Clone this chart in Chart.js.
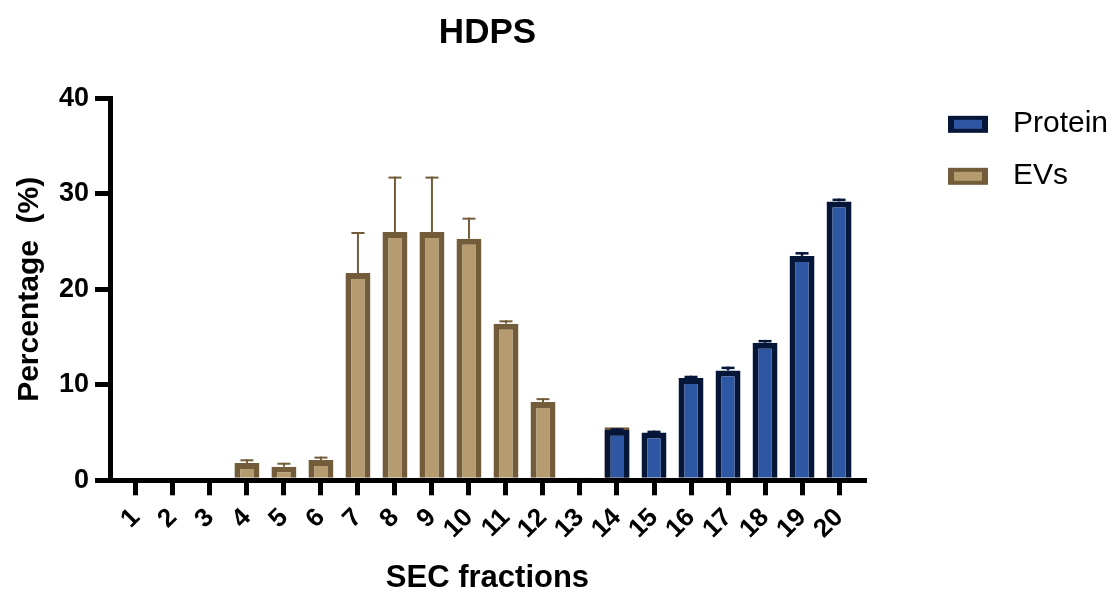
<!DOCTYPE html>
<html>
<head>
<meta charset="utf-8">
<title>HDPS</title>
<script src="https://cdn.jsdelivr.net/npm/chart.js@4/dist/chart.umd.min.js"></script>
<style>
  html, body { margin: 0; padding: 0; background: #ffffff; }
  #wrap { width: 1118px; height: 597px; }
</style>
</head>
<body>
<div id="wrap"><canvas id="chart" width="1118" height="597"></canvas></div>
<script>
// SEC fraction numbers and their axis labels
const fractions = [1, 2, 3, 4, 5, 6, 7, 8, 9, 10, 11, 12, 13, 14, 15, 16, 17, 18, 19, 20];
const fractionLabels = ['1', '2', '3', '4', '5', '6', '7', '8', '9', '10',
                        '11', '12', '13', '14', '15', '16', '17', '18', '19', '20'];
const yTicks = [0, 10, 20, 30, 40];

// Percentage per fraction (mean) and upward error (SD)
const proteinValues = [0, 0, 0, 0, 0, 0, 0, 0, 0, 0, 0, 0, 0, 5.3, 5.0, 10.7, 11.5, 14.4, 23.5, 29.2];
const proteinErr    = [0, 0, 0, 0, 0, 0, 0, 0, 0, 0, 0, 0, 0, 0.15, 0.2, 0.25, 0.4, 0.3, 0.4, 0.3];
const evValues      = [0, 0, 0, 1.8, 1.42, 2.13, 21.7, 26.0, 26.0, 25.3, 16.4, 8.2, 0.3, 5.55, 0, 0, 0, 0, 0, 0];
const evErr         = [0, 0, 0, 0.4, 0.42, 0.35, 4.3, 5.8, 5.8, 2.2, 0.35, 0.4, 0, 0, 0, 0, 0, 0, 0, 0];

const seriesNames = ['Protein', 'EVs'];

const FONT = '"Liberation Sans", Arial, Helvetica, sans-serif';
const PROTEIN_FILL = '#2D56A3', PROTEIN_EDGE = '#061638';
const EV_FILL = '#B69B6F', EV_EDGE = '#735C39';

// ---- legend geometry: swatch drawn as a point-style canvas ----
const LEGEND_FONT = 30;
const LEGEND_PAD = 10;
const LEGEND_STEP = 52;               // distance between legend rows
const PLOT_RIGHT = 867;
const SWATCH_LEFT = 950, SWATCH_W = 40, SWATCH_H = 17, SWATCH_DY = 1;
const TEXT_LEFT = 1015;
const itemLeft = PLOT_RIGHT + LEGEND_PAD;
const pointW = TEXT_LEFT - LEGEND_FONT / 2 - itemLeft;
const swatchCenter = itemLeft + pointW / 2;
const swCanvasW = Math.ceil(2 * (SWATCH_LEFT + SWATCH_W - swatchCenter)) + 2;
const swCanvasH = 2 * (SWATCH_H / 2 + Math.abs(SWATCH_DY)) + 2;

function swatch(fill, edge) {
  const c = document.createElement('canvas');
  c.width = swCanvasW; c.height = swCanvasH;
  const g = c.getContext('2d');
  const x0 = SWATCH_LEFT - (swatchCenter - swCanvasW / 2);
  const y0 = swCanvasH / 2 - SWATCH_H / 2 + SWATCH_DY;
  g.fillStyle = edge;
  g.fillRect(x0, y0, SWATCH_W, SWATCH_H);
  g.fillStyle = fill;
  g.fillRect(x0 + 6, y0 + 4, SWATCH_W - 12, SWATCH_H - 8);
  return c;
}

const measure = document.createElement('canvas').getContext('2d');
measure.font = LEGEND_FONT + 'px ' + FONT;
const labelW = Math.max(...seriesNames.map(t => measure.measureText(t).width));
const legendWidth = LEGEND_PAD + pointW + LEGEND_FONT / 2 + labelW + 10;
const padRight = Math.max(0, 1118 - PLOT_RIGHT - legendWidth);

// upward error bars with caps, drawn right after their own dataset
const errorBars = {
  id: 'errorBars',
  afterDatasetDraw(chart, args) {
    const ds = chart.data.datasets[args.index];
    const errs = ds.errors;
    if (!errs) return;
    const y = chart.scales.y;
    const ctx = chart.ctx;
    ctx.save();
    ctx.strokeStyle = ds.borderColor;
    args.meta.data.forEach((bar, i) => {
      const v = ds.data[i].y;
      const e = errs[i];
      if (!e || !v) return;
      const top = y.getPixelForValue(v + e);
      ctx.lineWidth = ds.errLine;
      ctx.beginPath();
      ctx.moveTo(bar.x, bar.y);
      ctx.lineTo(bar.x, top);
      ctx.stroke();
      ctx.lineWidth = ds.errCap;
      ctx.beginPath();
      ctx.moveTo(bar.x - 6.5, top + ds.errCap / 2);
      ctx.lineTo(bar.x + 6.5, top + ds.errCap / 2);
      ctx.stroke();
    });
    ctx.restore();
  }
};

const toPoints = vals => fractions.map((f, i) => ({ x: f, y: vals[i] }));

new Chart(document.getElementById('chart'), {
  type: 'bar',
  data: {
    datasets: [
      {
        label: seriesNames[0],
        data: toPoints(proteinValues),
        errors: proteinErr,
        backgroundColor: PROTEIN_FILL,
        borderColor: PROTEIN_EDGE,
        borderWidth: 6,
        errLine: 2.5,
        errCap: 2.5,
        legendSwatch: swatch(PROTEIN_FILL, PROTEIN_EDGE)
      },
      {
        label: seriesNames[1],
        data: toPoints(evValues),
        errors: evErr,
        backgroundColor: EV_FILL,
        borderColor: EV_EDGE,
        borderWidth: 6,
        errLine: 2,
        errCap: 2,
        legendSwatch: swatch(EV_FILL, EV_EDGE)
      }
    ]
  },
  options: {
    responsive: false,
    animation: false,
    devicePixelRatio: 1,
    grouped: false,
    barPercentage: 0.675,
    categoryPercentage: 1,
    layout: { padding: { left: 0, right: padRight, top: 0, bottom: 0 } },
    scales: {
      x: {
        type: 'linear',
        min: 0.3,
        max: 20.7,
        offset: false,
        afterBuildTicks: s => { s.ticks = fractions.map(v => ({ value: v })); },
        afterFit: s => { s.height = 116.7; },
        grid: {
          display: true,
          offset: false,
          drawOnChartArea: false,
          drawTicks: true,
          tickLength: 15,
          tickWidth: 5,
          lineWidth: 5,
          color: '#000'
        },
        border: { display: true, color: '#000', width: 5 },
        ticks: {
          autoSkip: false,
          minRotation: 45,
          maxRotation: 45,
          padding: 7,
          color: '#000',
          font: { family: FONT, size: 26, weight: 'bold' },
          callback: v => fractionLabels[fractions.indexOf(v)]
        },
        title: {
          display: true,
          text: 'SEC fractions',
          color: '#000',
          font: { family: FONT, size: 31, weight: 'bold' },
          padding: { top: 4, bottom: 0 }
        }
      },
      y: {
        min: 0,
        max: 40,
        afterBuildTicks: s => { s.ticks = yTicks.map(v => ({ value: v })); },
        afterFit: s => { s.width = 110; },
        grid: {
          display: true,
          drawOnChartArea: false,
          drawTicks: true,
          tickLength: 15,
          tickWidth: 5,
          lineWidth: 5,
          color: '#000'
        },
        border: { display: true, color: '#000', width: 5 },
        ticks: {
          padding: 6,
          color: '#000',
          font: { family: FONT, size: 27, weight: 'bold' }
        },
        title: {
          display: true,
          text: 'Percentage  (%)',
          color: '#000',
          font: { family: FONT, size: 30, weight: 'bold' },
          padding: { top: 12, bottom: 4 }
        }
      }
    },
    plugins: {
      title: {
        display: true,
        text: 'HDPS',
        fullSize: false,
        color: '#000',
        font: { family: FONT, size: 35, weight: 'bold' },
        padding: { top: 12, bottom: 44.3 }
      },
      legend: {
        display: true,
        position: 'right',
        align: 'start',
        fullSize: false,
        labels: {
          usePointStyle: true,
          pointStyleWidth: pointW,
          padding: LEGEND_PAD,
          color: '#000',
          font: { family: FONT, size: LEGEND_FONT, lineHeight: (LEGEND_STEP - LEGEND_PAD) / LEGEND_FONT },
          generateLabels: chart => chart.data.datasets.map((ds, i) => ({
            text: [ds.label],
            pointStyle: ds.legendSwatch,
            fillStyle: ds.backgroundColor,
            strokeStyle: ds.borderColor,
            lineWidth: 0,
            hidden: false,
            datasetIndex: i
          }))
        }
      },
      tooltip: { enabled: false }
    }
  },
  plugins: [errorBars]
});
</script>
</body>
</html>
